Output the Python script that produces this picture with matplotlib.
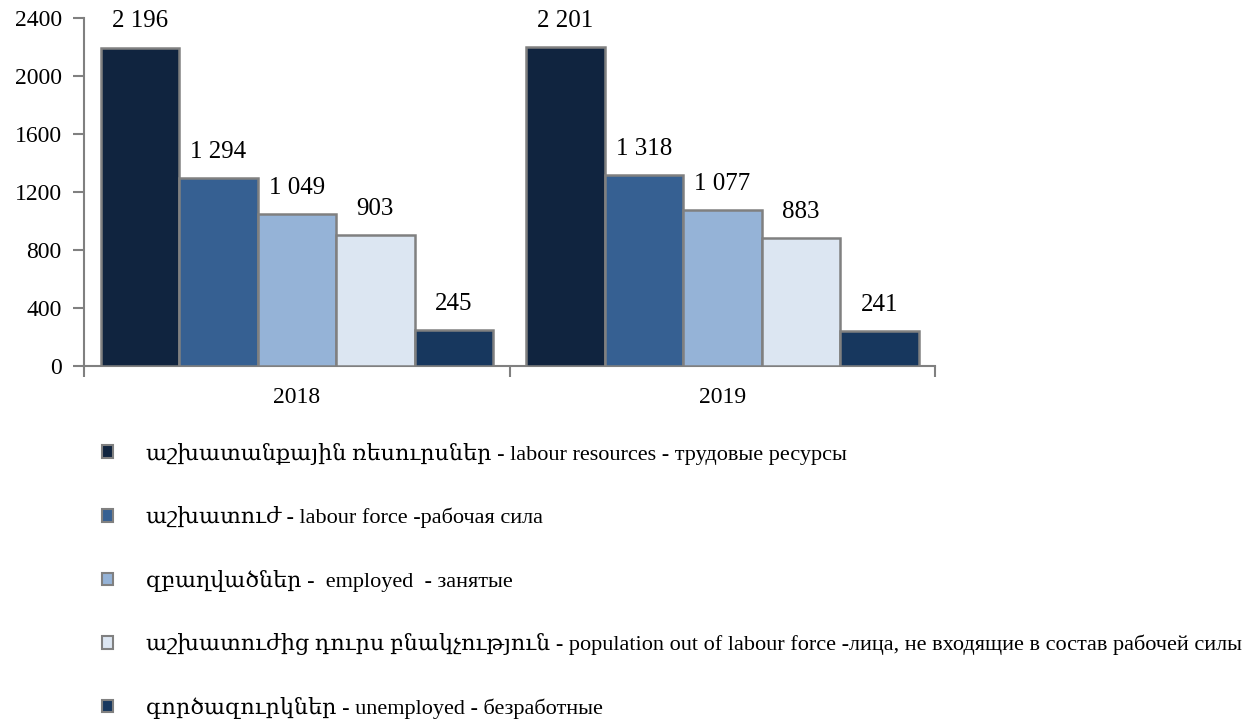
import numpy as np
import matplotlib.pyplot as plt
from matplotlib.patches import Patch

plt.rcParams['font.family'] = ['Liberation Serif', 'DejaVu Serif', 'DejaVu Sans']

years = ['2018', '2019']
series = [
    'աշխատանքային ռեսուրսներ - labour resources - трудовые ресурсы',
    'աշխատուժ - labour force -рабочая сила',
    'զբաղվածներ -  employed  - занятые',
    'աշխատուժից դուրս բնակչություն - population out of labour force -лица, не входящие в состав рабочей силы',
    'գործազուրկներ - unemployed - безработные',
]
values = [
    [2196, 2201],
    [1294, 1318],
    [1049, 1077],
    [903, 883],
    [245, 241],
]
labels = [
    ['2 196', '2 201'],
    ['1 294', '1 318'],
    ['1 049', '1 077'],
    ['903', '883'],
    ['245', '241'],
]
colors = ['#10243F', '#366092', '#95B3D7', '#DCE6F2', '#17375E']

fig = plt.figure(figsize=(12.6, 7.24), dpi=100)
ax = fig.add_axes([0.0667, 0.4945, 0.6755, 0.4805])

x = np.arange(len(years))
w = 0.1845
for i, (vals, c) in enumerate(zip(values, colors)):
    pos = x + (i - 2) * w
    ax.bar(pos, vals, width=w, color=c, edgecolor='#808080', linewidth=1.8, zorder=3)
    for p, v, lab in zip(pos, vals, labels[i]):
        ax.annotate(lab, (p, v), xytext=(0, 11), textcoords='offset points',
                    ha='center', va='bottom', fontsize=18, annotation_clip=False)

ax.set_xlim(-0.5, 1.5)
ax.set_ylim(0, 2400)
ax.set_yticks(range(0, 2401, 400))
ax.tick_params(axis='y', labelsize=17, length=8, width=1.5, color='#808080', pad=8)
ax.set_xticks([-0.5, 0.5, 1.5], minor=False)
ax.set_xticklabels([])
ax.set_xticks(x, minor=True)
ax.set_xticklabels(years, minor=True, fontsize=17)
ax.tick_params(axis='x', which='major', length=8, width=1.5, color='#808080', direction='out')
ax.tick_params(axis='x', which='minor', length=0, pad=15)
for s in ['top', 'right']:
    ax.spines[s].set_visible(False)
for s in ['left', 'bottom']:
    ax.spines[s].set_color('#808080')
    ax.spines[s].set_linewidth(1.5)

handles = [Patch(facecolor=c, edgecolor='#808080', linewidth=1.5) for c in colors]
fig.legend(handles, series, loc='upper left', bbox_to_anchor=(0.072, 0.404),
           frameon=False, fontsize=16, handlelength=0.5, handleheight=0.5,
           handletextpad=1.5, labelspacing=1.87, borderpad=0)

fig.savefig('out.png', dpi=100)
